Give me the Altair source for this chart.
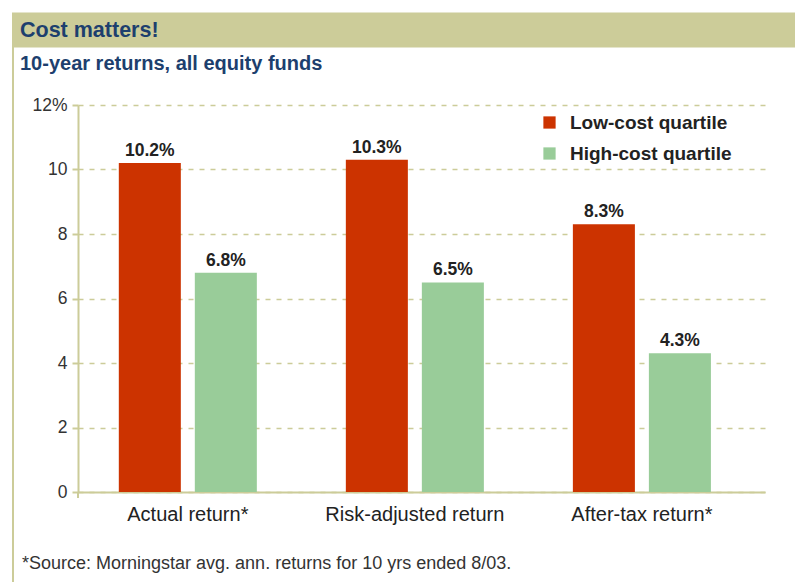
import altair as alt
import pandas as pd

# ---- data ----
CATEGORIES = ["Actual return*", "Risk-adjusted return", "After-tax return*"]
SERIES = ["Low-cost quartile", "High-cost quartile"]
LOW_COST = [10.2, 10.3, 8.3]
HIGH_COST = [6.8, 6.5, 4.3]
Y_TICKS = [0, 2, 4, 6, 8, 10, 12]
TITLE = "Cost matters!"
SUBTITLE = "10-year returns, all equity funds"
FOOTNOTE = "*Source: Morningstar avg. ann. returns for 10 yrs ended 8/03."

# ---- style ----
FONT = "Liberation Sans, Arial, Helvetica, sans-serif"
OLIVE = "#cccc99"
BLUE = "#1d3f6e"
INK = "#222222"
COLORS = ["#cc3300", "#99cc99"]

rows = []
for c, lo, hi in zip(CATEGORIES, LOW_COST, HIGH_COST):
    rows.append({"cat": c, "series": SERIES[0], "value": lo})
    rows.append({"cat": c, "series": SERIES[1], "value": hi})
df = pd.DataFrame(rows)

W, H = 687, 387

x_enc = alt.X(
    "cat:N",
    sort=CATEGORIES,
    title=None,
    scale=alt.Scale(paddingInner=0.392, paddingOuter=0.209, align=0.43),
    axis=alt.Axis(
        labelAngle=0,
        labelFont=FONT,
        labelFontSize=20,
        labelColor=INK,
        labelPadding=12,
        labelLimit=300,
        ticks=False,
        domainColor=OLIVE,
        domainWidth=2,
        grid=False,
    ),
)
xoff_enc = alt.XOffset("series:N", sort=SERIES,
                       scale=alt.Scale(paddingInner=0.184, paddingOuter=0))
y_enc = alt.Y(
    "value:Q",
    title=None,
    scale=alt.Scale(domain=[0, 12], nice=False),
    axis=alt.Axis(
        values=Y_TICKS,
        labelExpr="datum.value == 12 ? '12%' : datum.label",
        labelFont=FONT,
        labelFontSize=17.5,
        labelColor="#333333",
        labelPadding=5,
        tickSize=6,
        tickColor=OLIVE,
        tickWidth=2,
        domainColor=OLIVE,
        domainWidth=2,
        grid=True,
        gridColor=OLIVE,
        gridDash=[5, 6],
        gridWidth=1.5,
    ),
)

bars = alt.Chart(df).mark_bar(stroke=None).encode(
    x=x_enc,
    xOffset=xoff_enc,
    y=y_enc,
    color=alt.Color(
        "series:N",
        sort=SERIES,
        scale=alt.Scale(domain=SERIES, range=COLORS),
        legend=alt.Legend(
            title=None,
            orient="none",
            legendX=462,
            legendY=8,
            symbolType="square",
            symbolSize=150,
            symbolStrokeWidth=0,
            symbolOpacity=1,
            labelFont=FONT,
            labelFontSize=19,
            labelFontWeight="bold",
            labelColor=INK,
            labelOffset=11,
            labelLimit=400,
            rowPadding=11,
            padding=0,
        ),
    ),
)

labels = alt.Chart(df).transform_calculate(
    lab="format(datum.value, '.1f') + '%'"
).mark_text(
    baseline="bottom", dy=-3, font=FONT, fontSize=17.5, fontWeight="bold", color=INK
).encode(
    x=alt.X("cat:N", sort=CATEGORIES),
    xOffset=alt.XOffset("series:N", sort=SERIES),
    y="value:Q",
    text="lab:N",
)

one = alt.Data(values=[{"t": TITLE, "s": SUBTITLE, "f": FOOTNOTE}])

band = alt.Chart(one).mark_rect(color=OLIVE).encode(
    x=alt.value(-66), x2=alt.value(740), y=alt.value(-92.5), y2=alt.value(-57.5)
)
left_border = alt.Chart(one).mark_rule(color=OLIVE, strokeWidth=2).encode(
    x=alt.value(-65), y=alt.value(-92), y2=alt.value(480)
)
y_ext = alt.Chart(one).mark_rule(color=OLIVE, strokeWidth=2).encode(
    x=alt.value(0), y=alt.value(H), y2=alt.value(H + 6)
)
title = alt.Chart(one).mark_text(
    align="left", baseline="middle", font=FONT, fontSize=21.5, fontWeight="bold", color=BLUE
).encode(x=alt.value(-58), y=alt.value(-74), text="t:N")
subtitle = alt.Chart(one).mark_text(
    align="left", baseline="middle", font=FONT, fontSize=20, fontWeight="bold", color=BLUE
).encode(x=alt.value(-58), y=alt.value(-41), text="s:N")
footnote = alt.Chart(one).mark_text(
    align="left", baseline="middle", font=FONT, fontSize=18, color="#333333"
).encode(x=alt.value(-56), y=alt.value(459), text="f:N")

chart = alt.layer(
    band, left_border, bars, labels, y_ext, title, subtitle, footnote
).properties(
    width=W,
    height=H,
    autosize=alt.AutoSizeParams(type="none"),
    padding={"left": 70, "top": 97, "right": 30, "bottom": 90},
    background="white",
).configure_view(stroke=None)

chart.save("out.html", embed_options={"renderer": "svg", "actions": False})
